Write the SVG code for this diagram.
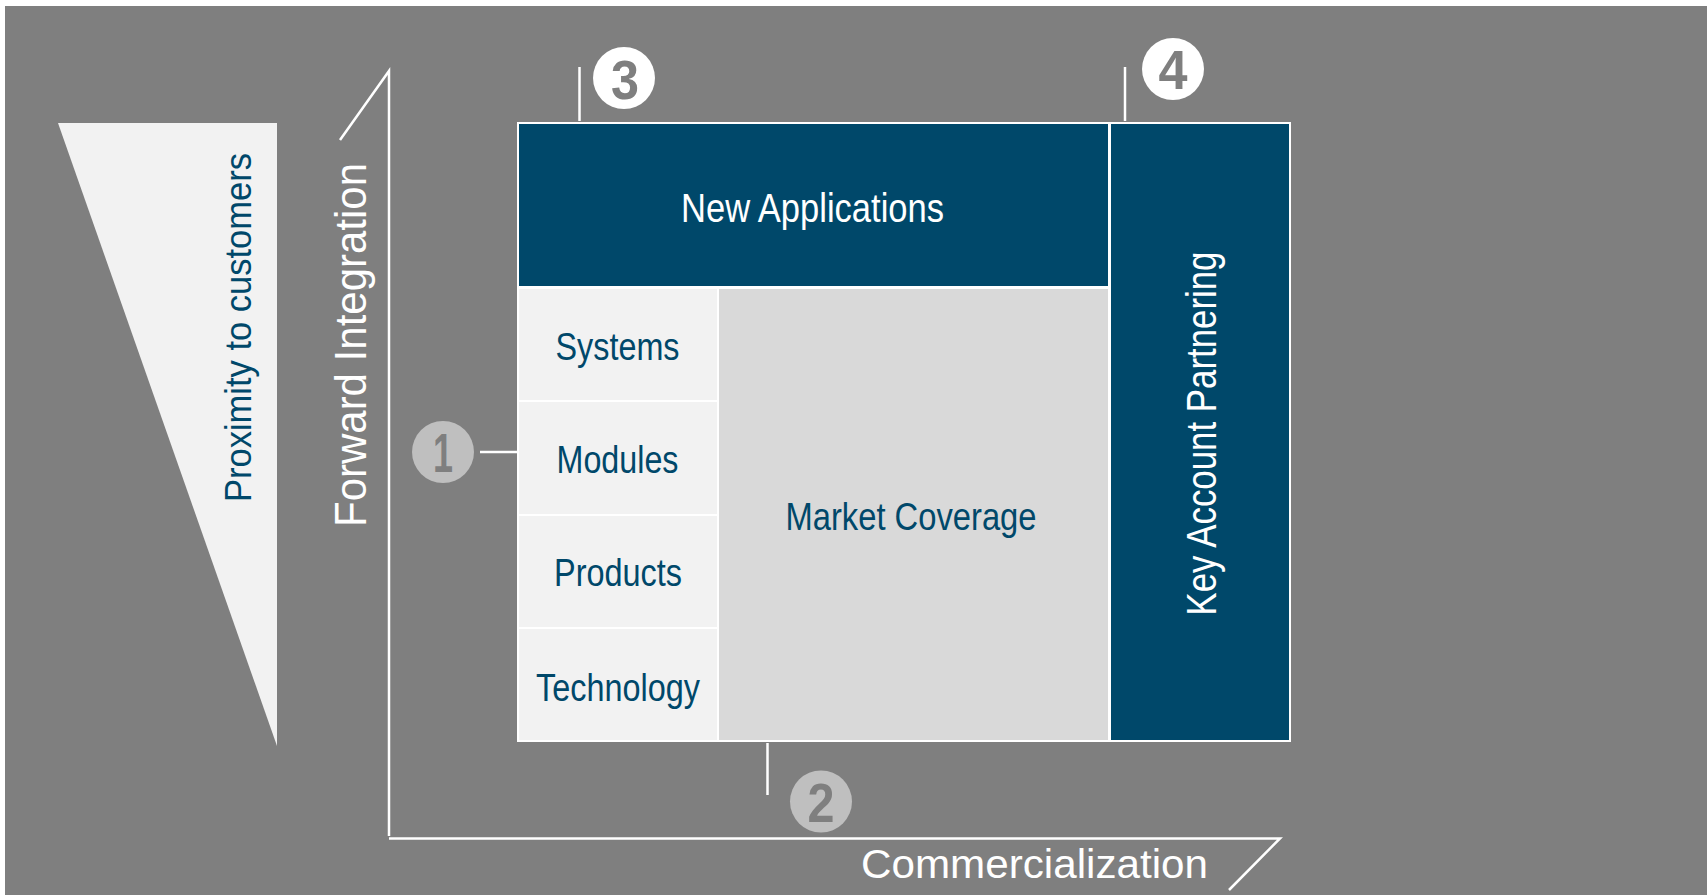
<svg xmlns="http://www.w3.org/2000/svg" width="1707" height="895" viewBox="0 0 1707 895">
<style>
text{font-family:"Liberation Sans",Arial,sans-serif}
.dark{fill:#00486a;stroke:#fff;stroke-width:2}
.cell{fill:#f2f2f2;stroke:#fff;stroke-width:2}
.mid{fill:#d9d9d9;stroke:#fff;stroke-width:2}
.lbl{fill:#00486a;font-size:39px;text-anchor:middle}
.wl{fill:#fff}
.ln{stroke:#fff;stroke-width:2.5;fill:none}
.bw{fill:#fff}
.bg{fill:#bfbfbf}
.num{fill:#7f7f7f;font-size:56px;font-weight:bold;text-anchor:middle}
</style>
<rect x="0" y="0" width="1707" height="895" fill="#fff"/>
<rect x="5" y="6" width="1702" height="889" fill="#7f7f7f"/>

<g id="proximity">
<polygon points="58,123 277,123 277,746" fill="#f2f2f2"/>
<text transform="translate(251,502) rotate(-90)" font-size="36" fill="#00486a" textLength="349" lengthAdjust="spacingAndGlyphs">Proximity to customers</text>
</g>

<g id="connectors">
<polyline class="ln" points="340,140 389,71 389,836"/>
<polyline class="ln" points="389,838.5 1280,838.5 1229,890"/>
<line class="ln" x1="579.5" y1="67" x2="579.5" y2="121"/>
<line class="ln" x1="1125" y1="67" x2="1125" y2="121"/>
<line class="ln" x1="480" y1="452" x2="517" y2="452"/>
<line class="ln" x1="767.5" y1="743" x2="767.5" y2="795"/>
</g>

<g id="axis-forward">
<text class="wl" transform="translate(366,527) rotate(-90)" font-size="45" textLength="364" lengthAdjust="spacingAndGlyphs">Forward Integration</text>
</g>
<g id="axis-commercialization">
<text class="wl" x="861" y="878" font-size="40" textLength="347" lengthAdjust="spacingAndGlyphs">Commercialization</text>
</g>

<g id="new-applications">
<rect class="dark" x="518" y="123" width="591" height="164"/>
<text class="wl" x="812.5" y="222" font-size="40" text-anchor="middle" textLength="263" lengthAdjust="spacingAndGlyphs">New Applications</text>
</g>
<g id="key-account">
<rect class="dark" x="1110" y="123" width="180" height="618"/>
<text class="wl" transform="translate(1216,615.5) rotate(-90)" font-size="42" textLength="364" lengthAdjust="spacingAndGlyphs">Key Account Partnering</text>
</g>
<g id="market-coverage">
<rect class="mid" x="718" y="288" width="391" height="453"/>
<text x="911" y="530" font-size="38" fill="#00486a" text-anchor="middle" textLength="251" lengthAdjust="spacingAndGlyphs">Market Coverage</text>
</g>
<g id="systems">
<rect class="cell" x="518" y="288" width="200" height="113"/>
<text class="lbl" x="617.5" y="360" textLength="124" lengthAdjust="spacingAndGlyphs">Systems</text>
</g>
<g id="modules">
<rect class="cell" x="518" y="401" width="200" height="114"/>
<text class="lbl" x="617.5" y="473" textLength="122" lengthAdjust="spacingAndGlyphs">Modules</text>
</g>
<g id="products">
<rect class="cell" x="518" y="515" width="200" height="113"/>
<text class="lbl" x="618" y="586" textLength="128" lengthAdjust="spacingAndGlyphs">Products</text>
</g>
<g id="technology">
<rect class="cell" x="518" y="628" width="200" height="113"/>
<text class="lbl" x="618" y="700.5" textLength="164" lengthAdjust="spacingAndGlyphs">Technology</text>
</g>

<g id="badge-1">
<circle class="bg" cx="443" cy="452" r="31"/>
<text class="num" x="443" y="472" textLength="20" lengthAdjust="spacingAndGlyphs">1</text>
</g>
<g id="badge-2">
<circle class="bg" cx="821" cy="801.5" r="31"/>
<text class="num" x="821" y="821.5" textLength="27" lengthAdjust="spacingAndGlyphs">2</text>
</g>
<g id="badge-3">
<circle class="bw" cx="624" cy="78" r="31"/>
<text class="num" x="625" y="99" textLength="28" lengthAdjust="spacingAndGlyphs">3</text>
</g>
<g id="badge-4">
<circle class="bw" cx="1173" cy="69" r="31"/>
<text class="num" x="1173" y="89" textLength="29" lengthAdjust="spacingAndGlyphs">4</text>
</g>
</svg>
